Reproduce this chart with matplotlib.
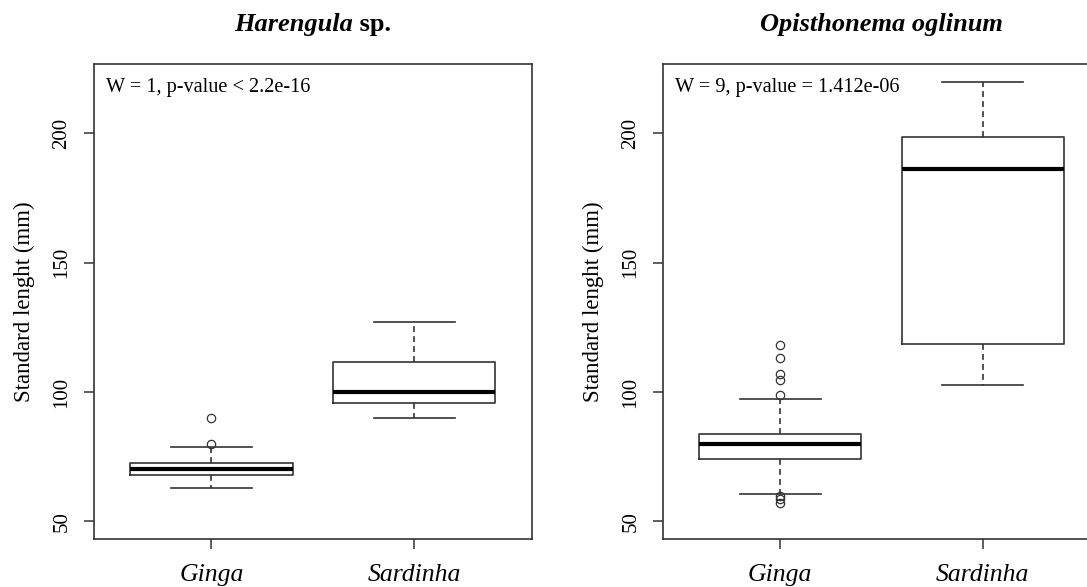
import matplotlib
matplotlib.use('Agg')
import matplotlib.pyplot as plt

plt.rcParams['font.family'] = ['Liberation Serif', 'DejaVu Serif']

groups = ['Ginga', 'Sardinha']

# Harengula sp.
har_whislo = [63, 90]
har_q1 = [68.1, 95.7]
har_med = [70.1, 100]
har_q3 = [72.6, 111.7]
har_whishi = [78.7, 127.2]
har_fliers = [[80, 90], []]

# Opisthonema oglinum
opi_whislo = [60.5, 102.9]
opi_q1 = [74.1, 118.4]
opi_med = [80, 186.2]
opi_q3 = [83.7, 198.5]
opi_whishi = [97.4, 220]
opi_fliers = [[99, 104.6, 107, 113.2, 118, 59.9, 58.8, 57.3], []]

line_col = '#333333'


def make_stats(lo, q1, med, q3, hi, fl):
    out = []
    for i in range(len(groups)):
        out.append({'whislo': lo[i], 'q1': q1[i], 'med': med[i], 'q3': q3[i],
                    'whishi': hi[i], 'fliers': fl[i], 'label': groups[i]})
    return out


def draw_panel(ax, stats, wtext):
    ax.bxp(stats, positions=[1, 2], widths=0.8, capwidths=0.4,
           boxprops=dict(color=line_col, linewidth=1.2),
           medianprops=dict(color='black', linewidth=3),
           whiskerprops=dict(color=line_col, linewidth=1.2, linestyle=(0, (3.5, 2.5))),
           capprops=dict(color=line_col, linewidth=1.2),
           flierprops=dict(marker='o', markerfacecolor='none', markeredgecolor=line_col,
                           markersize=6, markeredgewidth=0.9))
    ax.set_xlim(0.42, 2.58)
    ax.set_ylim(43.2, 226.8)
    ax.set_yticks([50, 100, 150, 200])
    ax.set_yticklabels(['50', '100', '150', '200'], rotation=90, va='center', fontsize=15)
    ax.set_xticks([1, 2])
    ax.set_xticklabels(groups, fontstyle='italic', fontsize=18.5)
    ax.tick_params(axis='both', direction='out', length=7, width=1.1, color=line_col)
    ax.tick_params(axis='y', pad=9)
    ax.tick_params(axis='x', pad=11)
    for s in ax.spines.values():
        s.set_linewidth(1.2)
        s.set_color(line_col)
    ax.set_ylabel('Standard lenght (mm)', fontsize=16.5)
    ax.yaxis.set_label_coords(-0.134, 0.5)
    ax.text(0.028, 0.951, wtext, transform=ax.transAxes, fontsize=14.6, va='center', ha='left')


fig = plt.figure(figsize=(10.87, 5.87), dpi=100)
ax1 = fig.add_axes([0.0863, 0.0818, 0.4029, 0.8092])
ax2 = fig.add_axes([0.6095, 0.0818, 0.4029, 0.8092])

draw_panel(ax1, make_stats(har_whislo, har_q1, har_med, har_q3, har_whishi, har_fliers),
           'W = 1, p-value < 2.2e-16')
draw_panel(ax2, make_stats(opi_whislo, opi_q1, opi_med, opi_q3, opi_whishi, opi_fliers),
           'W = 9, p-value = 1.412e-06')

# titles: italic genus + plain "sp."
ty = 1 - 25 / 587
t1 = fig.text(0, ty, 'Harengula', fontstyle='italic', fontweight='bold', fontsize=19, va='center')
t2 = fig.text(0, ty, ' sp.', fontweight='bold', fontsize=19, va='center')
fig.text(881.5 / 1087, ty, 'Opisthonema oglinum', fontstyle='italic', fontweight='bold',
         fontsize=19, va='center', ha='center')
fig.canvas.draw()
w1 = t1.get_window_extent().width
w2 = t2.get_window_extent().width
x0 = 312.8 - (w1 + w2) / 2
t1.set_x(x0 / 1087)
t2.set_x((x0 + w1) / 1087)

fig.savefig('out.png', dpi=100)
